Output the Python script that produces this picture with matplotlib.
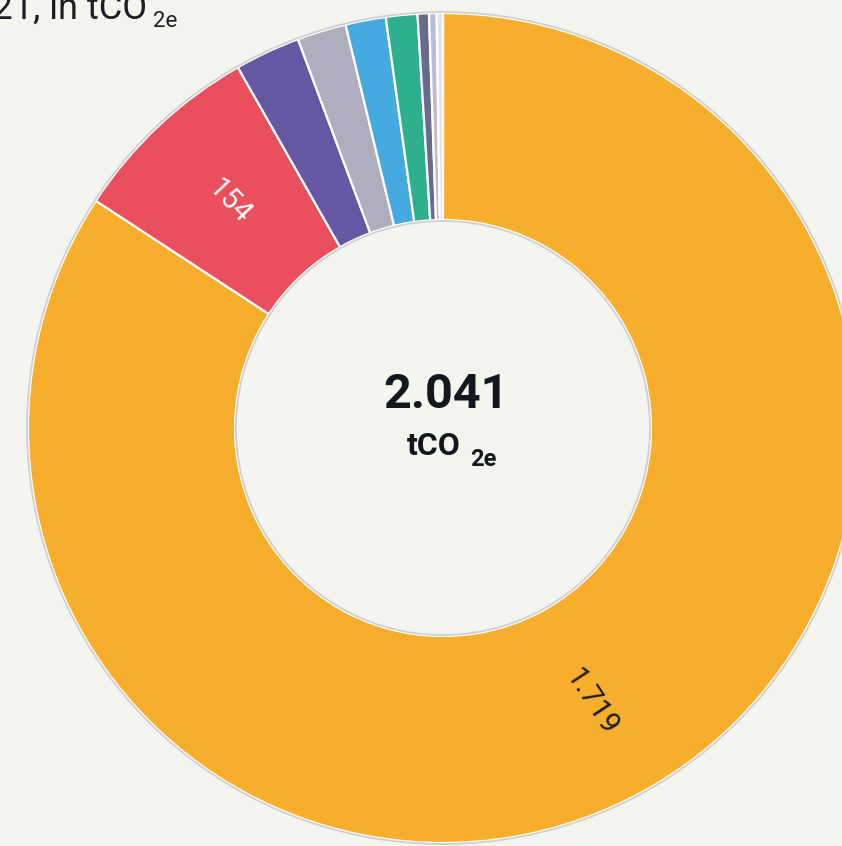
import matplotlib.pyplot as plt
import matplotlib.patches as mpatches
import numpy as np

plt.rcParams['font.family'] = ['Roboto', 'DejaVu Sans']

# emissions by source, tCO2e
values = [1719, 154, 52, 39, 32, 25, 9, 6, 5]
colors = ['#F7AE2D', '#E94F5D', '#6657A3', '#AFAEBF', '#45AADF',
          '#2EB08F', '#6A6A8C', '#BDBDCF', '#E4E4EC']
labels = ['1.719', '154', '', '', '', '', '', '', '']
total_label = '2.041'
title = '2021, in tCO'

bg = '#F5F5F0'
W, H = 842, 846
fig = plt.figure(figsize=(W / 100, H / 100), dpi=100, facecolor=bg)
ax = fig.add_axes([0, 0, 1, 1])
ax.set_facecolor(bg)

cx, cy = 443, H - 428
R = 415
width = 207

wedges, _ = ax.pie(values, colors=colors, center=(cx, cy), radius=R,
                   startangle=90, counterclock=False,
                   wedgeprops=dict(width=width, edgecolor='white', linewidth=1.6))

# thin grey outlines around the ring
for r in (R + 1, R - width - 1):
    ax.add_patch(mpatches.Circle((cx, cy), r, fill=False, edgecolor='#CFCFCF', lw=1.3))

# slice labels, radial
rot_fix = {0: 5, 1: 0}
for i, (w, lab) in enumerate(zip(wedges, labels)):
    if not lab:
        continue
    mid = (w.theta1 + w.theta2) / 2
    rr = R - width / 2
    x = cx + rr * np.cos(np.radians(mid))
    y = cy + rr * np.sin(np.radians(mid))
    rot = mid if np.cos(np.radians(mid)) >= 0 else mid - 180
    col = '#1B1F24' if i == 0 else 'white'
    ax.text(x, y, lab, rotation=rot + rot_fix.get(i, 0), rotation_mode='anchor',
            ha='center', va='center', fontsize=21, color=col)

# centre total
ax.text(cx + 3, cy + 33, total_label, ha='center', va='center',
        fontsize=35, fontweight='bold', color='#13181C')
ax.text(cx - 9, cy - 18, 'tCO', ha='center', va='center',
        fontsize=23, fontweight='bold', color='#13181C')
ax.text(cx + 27, cy - 31, '2e', ha='left', va='center',
        fontsize=17, fontweight='bold', color='#13181C')

# cropped title
ax.text(147, H - 19, title, ha='right', va='baseline', fontsize=26, color='#1B1F24')
ax.text(153, H - 27, '2e', ha='left', va='baseline', fontsize=16, color='#1B1F24')

ax.set_xlim(0, W)
ax.set_ylim(0, H)
ax.set_aspect('equal')
ax.axis('off')

fig.savefig('out.png', dpi=100, facecolor=bg)
